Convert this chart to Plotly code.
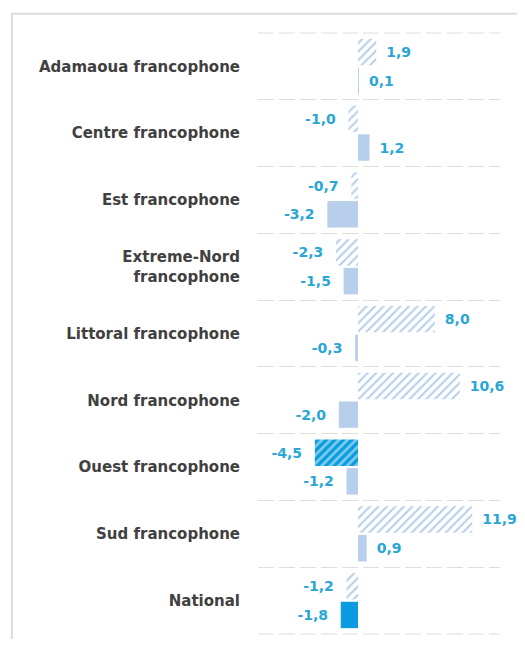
import plotly.graph_objects as go

regions = ['Adamaoua francophone', 'Centre francophone', 'Est francophone',
           'Extreme-Nord<br>francophone', 'Littoral francophone', 'Nord francophone',
           'Ouest francophone', 'Sud francophone', 'National']
hatched_vals = [1.9, -1.0, -0.7, -2.3, 8.0, 10.6, -4.5, 11.9, -1.2]
solid_vals = [0.1, 1.2, -3.2, -1.5, -0.3, -2.0, -1.2, 0.9, -1.8]
highlight_hatched = 'Ouest francophone'
highlight_solid = 'National'

LIGHT = '#b7cfea'
BRIGHT = '#0a9be0'
LABEL = '#2aa6d6'
GRID = '#dedede'


def fmt(v):
    s = f'{v:.1f}'.replace('.', ',')
    return f'\u2002{s}' if v >= 0 else f'{s}  '


hatch_fg = [BRIGHT if r == highlight_hatched else LIGHT for r in regions]
hatch_bg = ['#7fcdee' if r == highlight_hatched else 'white' for r in regions]
hatch_sol = [0.55 if r == highlight_hatched else 0.35 for r in regions]
solid_col = [BRIGHT if r == highlight_solid else LIGHT for r in regions]

val_font = dict(color=LABEL, size=14, family='DejaVu Sans', weight='bold')

fig = go.Figure()
fig.add_trace(go.Bar(
    y=regions, x=hatched_vals, orientation='h',
    text=[fmt(v) for v in hatched_vals], textposition='outside',
    marker=dict(color='white', line=dict(width=0),
                pattern=dict(shape='/', fgcolor=hatch_fg, bgcolor=hatch_bg,
                             size=6, solidity=hatch_sol, fillmode='replace')),
    textfont=val_font, cliponaxis=False, constraintext='none', showlegend=False,
))
fig.add_trace(go.Bar(
    y=regions, x=solid_vals, orientation='h',
    text=[fmt(v) for v in solid_vals], textposition='outside',
    marker=dict(color=solid_col, line=dict(width=0)),
    textfont=val_font, cliponaxis=False, constraintext='none', showlegend=False,
))

# outer dashed separators (top and bottom) + light frame around the chart
edge = dict(type='line', xref='paper', yref='paper', x0=0, x1=1,
            line=dict(color=GRID, width=1, dash='16px,5px'), layer='below')
shapes = [dict(edge, y0=1, y1=1), dict(edge, y0=0, y1=0),
          dict(type='rect', xref='paper', yref='paper',
               x0=-1.017, x1=1.09, y0=-0.05, y1=1.032,
               line=dict(color='#dcdcdc', width=2), layer='below')]

# page body adds an 8px margin all round, so the figure fills the rest
fig.update_layout(
    width=517, height=631,
    margin=dict(l=250, r=25, t=25, b=5),
    paper_bgcolor='white', plot_bgcolor='white',
    barmode='group', bargap=0.14, bargroupgap=0.08,
    font=dict(family='DejaVu Sans'),
    shapes=shapes,
)
fig.update_xaxes(range=[-10.42, 14.79], showgrid=False, zeroline=False,
                 showticklabels=False, ticks='')
fig.update_yaxes(autorange=False, range=[len(regions) - 0.5, -0.5],
                 tickson='boundaries', ticks='', showgrid=True,
                 gridcolor=GRID, griddash='16px,5px', gridwidth=1,
                 zeroline=False, ticklabelstandoff=17,
                 tickfont=dict(size=15, color='#404040', family='DejaVu Sans', weight='bold'))

fig.write_html('out.html')
